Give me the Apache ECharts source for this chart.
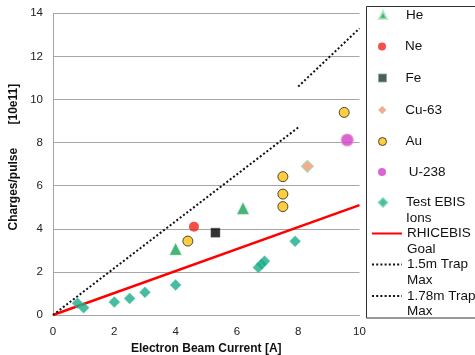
<!DOCTYPE html>
<html>
<head>
<meta charset="utf-8">
<script src="https://cdn.jsdelivr.net/npm/echarts@6/dist/echarts.min.js"></script>
<style>
  html, body { margin: 0; padding: 0; background: #fff; }
  #chart { width: 475px; height: 355px; }
</style>
</head>
<body>
<div id="chart"></div>
<script>
// Beam current [A] vs. charges per pulse [10e11]
const heData = [[4.0, 3.06], [6.2, 4.95]];
const neData = [[4.6, 4.1]];
const feData = [[5.3, 3.82]];
const cuData = [[8.3, 6.9]];
const auData = [[4.4, 3.43], [7.5, 6.42], [7.5, 5.61], [7.5, 5.03], [9.5, 9.4]];
const uData = [[9.6, 8.12]];
const testEbisData = [[0.8, 0.54], [1.0, 0.34], [2.0, 0.6], [2.5, 0.77], [3.0, 1.05], [4.0, 1.39],
                      [6.7, 2.2], [6.8, 2.35], [6.9, 2.5], [7.9, 3.42]];
const goalLine = [[0, 0], [10, 5.1]];
const trap15Line = [[0, 0], [8, 8.7]];
const trap178Line = [[8, 10.6], [10, 13.3]];

const xTicks = { min: 0, max: 10, interval: 2 };
const yTicks = { min: 0, max: 14, interval: 2 };

const FONT = "'Liberation Sans', Arial, sans-serif";

// two-line key labels: the wrapped part goes below the first line
const wrapped = {
  'Test EBIS Ions': ['Test EBIS', 'Ions'],
  'RHICEBIS Goal': ['RHICEBIS', 'Goal'],
  '1.5m Trap Max': ['1.5m Trap', 'Max'],
  '1.78m Trap Max': ['1.78m Trap', 'Max']
};

const chart = echarts.init(document.getElementById('chart'), null, { renderer: 'canvas' });

// one small legend block per entry, stacked in the boxed key on the right
const LH = 15.5;
function legendEntry(name, centerY, isLine, iconStyle) {
  const twoLine = !!wrapped[name];
  const itemH = twoLine ? LH * 3 : LH;
  const entry = {
    data: [name],
    orient: 'vertical',
    left: isLine ? 371 : 378,
    top: centerY - itemH / 2,
    padding: 0,
    itemWidth: isLine ? 30 : 8,
    itemHeight: 8,
    itemGap: 0,
    selectedMode: false,
    symbolKeepAspect: true,
    // an empty leading line keeps the first label line level with the key icon
    formatter: (n) => wrapped[n] ? '\n' + wrapped[n].join('\n') : n,
    textStyle: {
      fontFamily: FONT, fontSize: 13.5, color: '#111', lineHeight: LH,
      padding: [0, 0, 0, isLine ? 0 : 14]
    }
  };
  if (isLine) entry.itemStyle = { opacity: 0, borderWidth: 0 };
  else if (iconStyle) entry.itemStyle = iconStyle;
  return entry;
}

const option = {
  animation: false,
  backgroundColor: '#fff',
  grid: { left: 53, right: 115.5, top: 13.3, bottom: 40, containLabel: false, outerBoundsMode: 'none' },
  xAxis: {
    type: 'value', min: xTicks.min, max: xTicks.max, interval: xTicks.interval,
    name: 'Electron Beam Current [A]', nameLocation: 'middle', nameGap: 27,
    nameTextStyle: { fontFamily: FONT, fontSize: 12, fontWeight: 'bold', color: '#111' },
    axisLine: { show: true, lineStyle: { color: '#a6a6a6', width: 1 } },
    axisTick: { show: false },
    splitLine: { show: false },
    axisLabel: { fontFamily: FONT, fontSize: 11.5, color: '#222', margin: 11 }
  },
  yAxis: {
    type: 'value', min: yTicks.min, max: yTicks.max, interval: yTicks.interval,
    name: 'Charges/pulse       [10e11]', nameLocation: 'middle', nameGap: 33,
    nameTextStyle: { fontFamily: FONT, fontSize: 12, fontWeight: 'bold', color: '#111', padding: [0, 0, 0, 14] },
    axisLine: { show: true, lineStyle: { color: '#a6a6a6', width: 1 } },
    axisTick: { show: false },
    splitLine: { show: true, lineStyle: { color: '#a6a6a6', width: 1 } },
    axisLabel: { fontFamily: FONT, fontSize: 11.5, color: '#222', margin: 10 }
  },
  legend: [
    legendEntry('He', 15, false),
    legendEntry('Ne', 46.5, false),
    legendEntry('Fe', 78, false, { color: '#1f3a2c', borderColor: '#8aa596', borderWidth: 1 }),
    legendEntry('Cu-63', 110, false, { color: '#f5956f', borderColor: '#a8dfc0', borderWidth: 0.6 }),
    legendEntry('Au', 141.5, false, { color: '#ffc20e', borderColor: '#222', borderWidth: 1 }),
    legendEntry(' U-238', 172, false, { color: '#d040c8', borderWidth: 0 }),
    legendEntry('Test EBIS Ions', 202.5, false),
    legendEntry('RHICEBIS Goal', 233.5, true),
    legendEntry('1.5m Trap Max', 264.5, true),
    legendEntry('1.78m Trap Max', 296, true)
  ],
  graphic: [{
    type: 'rect', silent: true, z: 100,
    shape: { x: 366.5, y: 6.5, width: 140, height: 311.5 },
    style: { fill: 'none', stroke: '#333', lineWidth: 1 }
  }],
  series: [
    {
      name: 'RHICEBIS Goal', type: 'line', data: goalLine, symbol: 'none', z: 2,
      lineStyle: { color: '#ff0000', width: 2.5 }, itemStyle: { color: '#ff0000' }
    },
    {
      name: '1.5m Trap Max', type: 'line', data: trap15Line, symbol: 'none', z: 2,
      lineStyle: { color: '#111', width: 2, type: [2, 2.2] }, itemStyle: { color: '#111' }
    },
    {
      name: '1.78m Trap Max', type: 'line', data: trap178Line, symbol: 'none', z: 2,
      lineStyle: { color: '#111', width: 2, type: [2, 2.2] }, itemStyle: { color: '#111' }
    },
    {
      name: 'Test EBIS Ions', type: 'scatter', data: testEbisData, symbol: 'diamond', symbolSize: 11, z: 3,
      itemStyle: { color: '#18ad88', borderColor: '#5cc9a8', borderWidth: 0.5 }
    },
    {
      name: 'He', type: 'scatter', data: heData, symbol: 'triangle', symbolSize: 12, z: 4,
      itemStyle: { color: '#16a352', borderColor: '#b6e3c6', borderWidth: 0.6 }
    },
    {
      name: 'Ne', type: 'scatter', data: neData, symbol: 'circle', symbolSize: 10, z: 4,
      itemStyle: { color: '#f2231b' }
    },
    {
      name: 'Fe', type: 'scatter', data: feData, symbol: 'rect', symbolSize: 9, z: 4,
      itemStyle: { color: '#000', borderColor: '#555', borderWidth: 0.6 }
    },
    {
      name: 'Cu-63', type: 'scatter', data: cuData, symbol: 'diamond', symbolSize: 12, z: 4,
      itemStyle: { color: '#f5956f', borderColor: '#9ed9b8', borderWidth: 1.2 }
    },
    {
      name: 'Au', type: 'scatter', data: auData, symbol: 'circle', symbolSize: 10, z: 4,
      itemStyle: { color: '#ffc20e', borderColor: '#222', borderWidth: 1 }
    },
    {
      name: ' U-238', type: 'scatter', data: uData, symbol: 'circle', symbolSize: 12, z: 4,
      itemStyle: { color: '#d040c8', borderColor: '#f08ccc', borderWidth: 1.2 }
    }
  ]
};

chart.setOption(option);
</script>
</body>
</html>
